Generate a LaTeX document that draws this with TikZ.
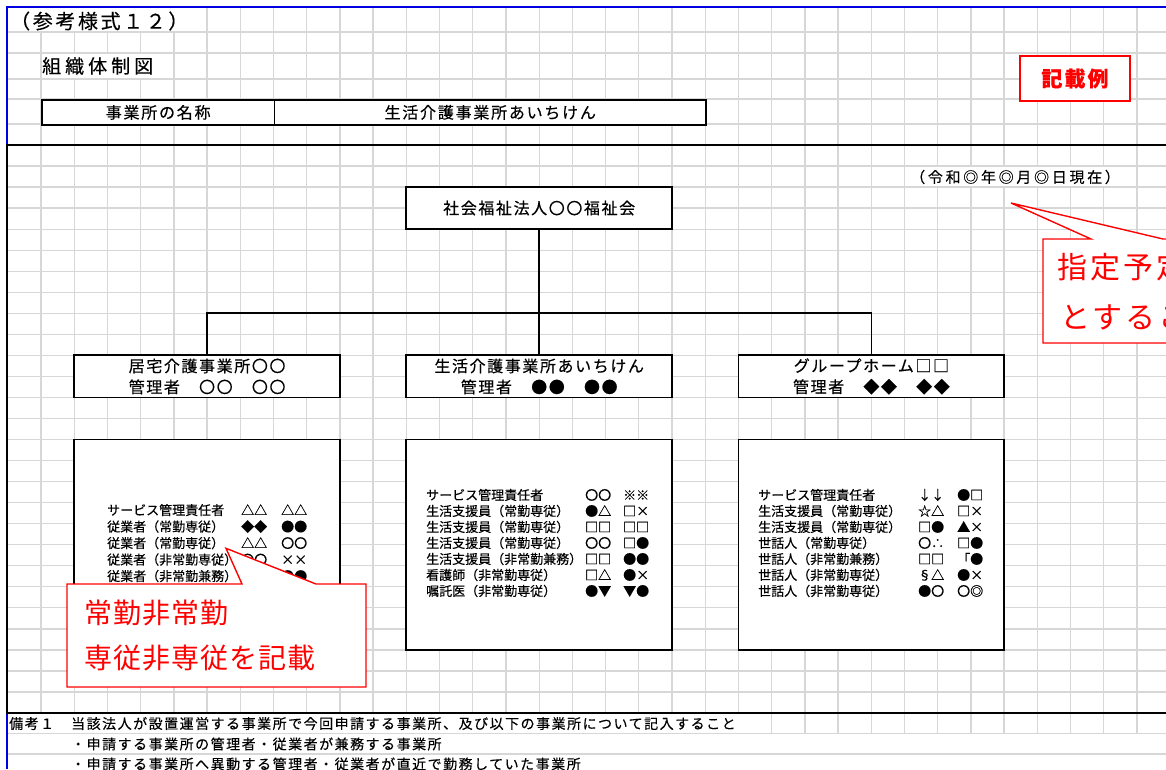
\documentclass[tikz,border=0pt]{standalone}
\usepackage{fontspec}
\setmainfont[FakeBold=0.35]{Noto Sans CJK JP}
\newfontfamily\thinjp{Noto Sans CJK JP}
\usepackage{array}
\definecolor{gridc}{RGB}{215,215,215}
\definecolor{fr}{RGB}{0,0,225}
\definecolor{rd}{RGB}{255,0,0}
\newcommand\jfs[3]{\fontsize{#1}{#2}\selectfont\addfontfeature{LetterSpace=#3}}
\begin{document}
\begin{tikzpicture}[x=1pt,y=-1pt,
  gridline/.style={draw=gridc,line width=1.3pt},
  orgbox/.style={draw=black,line width=1.8pt,fill=white,inner sep=0pt},
  conn/.style={draw=black,line width=1.8pt},
  callout/.style={draw=rd,line width=1.4pt,fill=white,line join=miter},
  redtext/.style={text=rd,inner sep=0pt,anchor=west},
  txt/.style={inner sep=0pt},
  stafftxt/.style={inner sep=0pt,anchor=west,align=left}]
\useasboundingbox (0,0) rectangle (1166,769);
\clip (0,0) rectangle (1166,769);
% ---- grid ----
\foreach \y in {32,53,79,99,124} \draw[gridline] (7,\y) -- (1166,\y);
\foreach \k in {1,...,26} \draw[gridline] (7,{145+21.037*\k}) -- (1166,{145+21.037*\k});
\foreach \y in {733.5,754} \draw[gridline] (7,\y) -- (1166,\y);
\foreach \k in {1,...,34} \draw[gridline] ({7.8+33.21*\k},7) -- ({7.8+33.21*\k},733.5);
% ---- cells hidden by overflowing text ----
\fill[white] (8,8) rectangle (195,31.2);
\fill[white] (50,53.8) rectangle (165,78.2);
\fill[white] (912,166.8) rectangle (1120,186.3);
\fill[white] (8,713.9) rectangle (750,732.7);
% ---- frames ----
\draw[fr,line width=2pt] (7,769) -- (7,7) -- (1166,7);
\draw[black,line width=2.2pt] (1166,145) -- (7,145) -- (7,713) -- (1166,713);
% ---- header ----
\node[txt,anchor=west,font=\jfs{20}{20}{13}] (form) at (10,21) {（参考様式１２）};
\node[txt,anchor=west,font=\jfs{19}{19}{21}] (title) at (42,66) {組織体制図};
\node[orgbox,anchor=north west,minimum width=232.5pt,minimum height=25pt,font=\jfs{16}{16}{11}] (namelbl) at (41,99) {事業所の名称};
\node[orgbox,anchor=north west,minimum width=431.7pt,minimum height=25pt,font=\jfs{16}{16}{11}] (nameval) at (273.5,99) {生活介護事業所あいちけん};
\node[draw=rd,line width=2.8pt,fill=white,minimum width=110pt,minimum height=45pt,inner sep=0pt,text=rd,font=\bfseries\jfs{21}{21}{10}] (example) at (1075,78.5) {記載例};
\node[txt,anchor=west,font=\jfs{15}{15}{18}] (date) at (910,177) {（令和◎年◎月◎日現在）};
% ---- org chart ----
\node[orgbox,minimum width=265.7pt,minimum height=42.1pt,font=\jfs{16}{21}{10}] (corp) at (539.2,208.1) {社会福祉法人〇〇福祉会};
\node[orgbox,minimum width=265.7pt,minimum height=42.1pt,align=center,font=\jfs{16}{21}{10}] (home) at (207.1,376.4) {居宅介護事業所〇〇\\管理者　〇〇　〇〇};
\node[orgbox,minimum width=265.7pt,minimum height=42.1pt,align=center,font=\jfs{16}{21}{10}] (life) at (539.2,376.4) {生活介護事業所あいちけん\\管理者　●●　●●};
\node[orgbox,minimum width=265.7pt,minimum height=42.1pt,align=center,font=\jfs{16}{21}{10}] (group) at (871.4,376.4) {グループホーム□□\\管理者　◆◆　◆◆};
\coordinate (jl) at (207.1,313.3);
\coordinate (jr) at (871.4,313.3);
\draw[conn] (corp.south) -- (life.north);
\draw[conn,line join=miter] (home.north) -- (jl) -- (jr) -- (group.north);
% ---- staff boxes ----
\node[orgbox,minimum width=265.7pt,minimum height=210.4pt] (homestaff) at (207.1,544.7) {};
\node[orgbox,minimum width=265.7pt,minimum height=210.4pt] (lifestaff) at (539.2,544.7) {};
\node[orgbox,minimum width=265.7pt,minimum height=210.4pt] (groupstaff) at (871.4,544.7) {};
\node[stafftxt,font=\fontsize{13}{16.5}\selectfont] (homelist) at (107,544.7) {%
\begin{tabular}{@{}p{134pt}@{}p{40pt}@{}l@{}}
サービス管理責任者 & △△ & △△\\
従業者（常勤専従） & ◆◆ & ●●\\
従業者（常勤専従） & △△ & 〇〇\\
従業者（非常勤専従） & 〇〇 & ××\\
従業者（非常勤兼務） & & ●●
\end{tabular}};
\node[stafftxt,font=\fontsize{13}{16}\selectfont] (lifelist) at (426,544.7) {%
\begin{tabular}{@{}p{159pt}@{}p{38pt}@{}l@{}}
サービス管理責任者 & 〇〇 & ※※\\
生活支援員（常勤専従） & ●△ & □×\\
生活支援員（常勤専従） & □□ & □□\\
生活支援員（常勤専従） & 〇〇 & □●\\
生活支援員（非常勤兼務） & □□ & ●●\\
看護師（非常勤専従） & □△ & ●×\\
嘱託医（非常勤専従） & ●▼ & ▼●
\end{tabular}};
\node[stafftxt,font=\fontsize{13}{16}\selectfont] (grouplist) at (758,544.7) {%
\begin{tabular}{@{}p{160pt}@{}p{39pt}@{}l@{}}
サービス管理責任者 & ↓↓ & ●□\\
生活支援員（常勤専従） & ☆△ & □×\\
生活支援員（常勤専従） & □● & ▲×\\
世話人（常勤専従） & 〇∴ & □●\\
世話人（非常勤兼務） & □□ & 「●\\
世話人（非常勤専従） & §△ & ●×\\
世話人（非常勤専従） & ●〇 & 〇◎
\end{tabular}};
% ---- notes ----
\node[txt,anchor=west,font=\jfs{14}{14}{10.7}] (note1) at (9,723.5) {備考１　当該法人が設置運営する事業所で今回申請する事業所、及び以下の事業所について記入すること};
\node[txt,anchor=west,font=\jfs{14}{14}{10.7}] (note2) at (71,744) {・申請する事業所の管理者・従業者が兼務する事業所};
\node[txt,anchor=west,font=\jfs{14}{14}{10.7}] (note3) at (71,764) {・申請する事業所へ異動する管理者・従業者が直近で勤務していた事業所};
% ---- callouts ----
\draw[callout] (67,584) -- (242,584) -- (226,548.3) -- (316,584) -- (366,584) -- (366,687) -- (67,687) -- cycle;
\node[redtext,font=\thinjp\jfs{28}{28}{3.6}] (calloutA1) at (84.5,613) {常勤非常勤};
\node[redtext,font=\thinjp\jfs{28}{28}{3.6}] (calloutA2) at (84.5,658) {専従非専従を記載};
\draw[callout] (1043,239) -- (1091,239) -- (1011,203) -- (1163,239) -- (1180,239) -- (1180,343) -- (1043,343) -- cycle;
\node[redtext,font=\thinjp\jfs{30}{30}{10}] (calloutB1) at (1057.5,267) {指定予定};
\node[redtext,font=\thinjp\jfs{30}{30}{10}] (calloutB2) at (1060,317) {とするこ};
\end{tikzpicture}
\end{document}
